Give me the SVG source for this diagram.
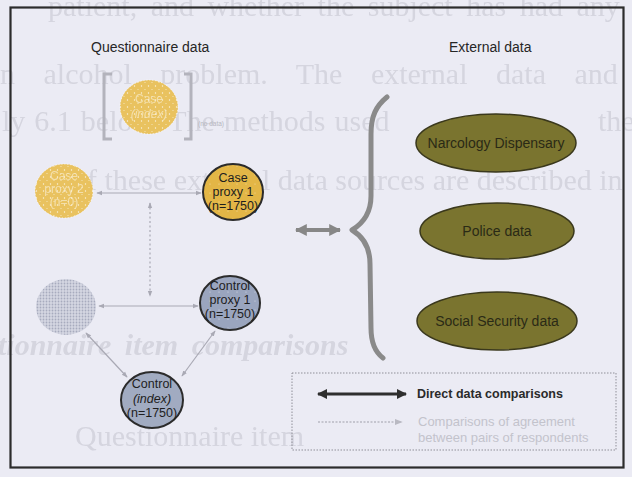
<svg xmlns="http://www.w3.org/2000/svg" width="632" height="477" viewBox="0 0 632 477">
<defs>
<style>
.ghost{font-family:"Liberation Serif",serif;font-size:30px;fill:#d5d5df}
.ghost-h{font-family:"Liberation Serif",serif;font-size:30px;font-style:italic;font-weight:bold;fill:#d5d5df}
.hd{font-family:"Liberation Sans",Arial,sans-serif;font-size:14px;fill:#262626}
.lbl{font-family:"Liberation Sans",Arial,sans-serif;font-size:12.5px;fill:#1e1e1e;text-anchor:middle}
.wlbl{font-family:"Liberation Sans",Arial,sans-serif;font-size:12px;fill:#fbf3de;text-anchor:middle;opacity:0.6}
.ext{font-family:"Liberation Sans",Arial,sans-serif;font-size:14px;fill:#2a2a16;text-anchor:middle}
.faint{stroke:#a9a9b4;stroke-width:1.2;fill:none}
.node{stroke:#2b2b2b;stroke-width:2}
.olive{fill:#7a742f;stroke:#3a381c;stroke-width:1.5}
.brk{stroke:#b3b3bc;stroke-width:3;fill:none}
</style>
<filter id="soft" x="-5%" y="-20%" width="110%" height="140%">
<feGaussianBlur stdDeviation="0.6"/>
</filter>
<pattern id="speck" width="7" height="7" patternUnits="userSpaceOnUse">
<rect width="7" height="7" fill="#e9c25f"/>
<circle cx="1.5" cy="2" r="0.7" fill="#fff" opacity="0.8"/>
<circle cx="5" cy="5.5" r="0.6" fill="#fff" opacity="0.6"/>
</pattern>
<pattern id="hatch" width="3" height="3" patternUnits="userSpaceOnUse">
<rect width="3" height="3" fill="#d5d7e2"/>
<circle cx="1.5" cy="1.5" r="0.9" fill="#a7abbe"/>
</pattern>
<pattern id="dotsY" width="9" height="9" patternUnits="userSpaceOnUse">
<rect width="9" height="9" fill="#e3b646"/>
<circle cx="3" cy="4" r="0.6" fill="#fff" opacity="0.5"/>
</pattern>
<pattern id="dotsB" width="9" height="9" patternUnits="userSpaceOnUse">
<rect width="9" height="9" fill="#9aa5be"/>
<circle cx="3" cy="4" r="0.6" fill="#fff" opacity="0.6"/>
</pattern>
<marker id="tiny" viewBox="0 0 8 8" refX="7" refY="4" markerWidth="5" markerHeight="5" orient="auto-start-reverse">
<path d="M0,1 L8,4 L0,7 z" fill="#a9a9b4"/>
</marker>
<marker id="grey" viewBox="0 0 10 10" refX="9" refY="5" markerWidth="3" markerHeight="3" orient="auto-start-reverse">
<path d="M0,0 L10,5 L0,10 z" fill="#878787"/>
</marker>
<marker id="dark" viewBox="0 0 10 10" refX="9" refY="5" markerWidth="3.4" markerHeight="3.4" orient="auto-start-reverse">
<path d="M0,0 L10,5 L0,10 z" fill="#2e2e2e"/>
</marker>
<marker id="pale" viewBox="0 0 10 10" refX="9" refY="5" markerWidth="6" markerHeight="6" orient="auto-start-reverse">
<path d="M0,1 L10,5 L0,9 z" fill="#b9b9c2"/>
</marker>
</defs>

<!-- page -->
<rect width="632" height="477" fill="#ebebf4"/>

<!-- show-through of the printed page behind -->
<g id="page-text" filter="url(#soft)">
<text class="ghost" x="48" y="16" word-spacing="6">patient, and whether the subject has had any</text>
<text class="ghost" x="0" y="84" word-spacing="21">n alcohol problem. The external data and</text>
<text class="ghost" x="2" y="131" word-spacing="1.5">ly 6.1 below. The methods used</text>
<text class="ghost" x="598" y="131">the</text>
<text class="ghost" x="72" y="190">of these external data sources are described in</text>
<text class="ghost-h" x="-2" y="355" word-spacing="6">tionnaire item comparisons</text>
<text class="ghost" x="75" y="446" font-size="29">Questionnaire item</text>
</g>

<!-- frame -->
<rect x="10.5" y="7.5" width="613" height="460" fill="none" stroke="#2c2c2c" stroke-width="2.2"/>

<!-- headings -->
<text class="hd" x="91" y="52">Questionnaire data</text>
<text class="hd" x="449" y="52">External data</text>

<!-- connectors -->
<g id="connectors">
<line class="faint" x1="97" y1="193" x2="201" y2="193" marker-start="url(#tiny)" marker-end="url(#tiny)"/>
<line class="faint" x1="150" y1="203" x2="150" y2="296" stroke-dasharray="2 2.5" marker-start="url(#tiny)" marker-end="url(#tiny)"/>
<line class="faint" x1="99" y1="306" x2="198" y2="306" marker-start="url(#tiny)" marker-end="url(#tiny)"/>
<line class="faint" x1="86" y1="333" x2="127" y2="377" marker-start="url(#tiny)" marker-end="url(#tiny)"/>
<line class="faint" x1="215" y1="331" x2="182" y2="376" marker-start="url(#tiny)" marker-end="url(#tiny)"/>
<line x1="296" y1="230" x2="340" y2="230" stroke="#878787" stroke-width="4" marker-start="url(#grey)" marker-end="url(#grey)"/>
<path d="M387,97 C376,106 371,116 371,134 L371,196 C371,214 362,224 352,230 C362,236 370,246 370,264 L371,328 C371,342 375,352 383,358" fill="none" stroke="#8a8a8a" stroke-width="5" stroke-linecap="round" stroke-linejoin="round"/>
</g>

<!-- questionnaire side -->
<g id="case-index">
<path class="brk" d="M112,74 L104,74 L104,139 L112,139"/>
<path class="brk" d="M184,74 L191,74 L191,139 L184,139"/>
<ellipse cx="149" cy="107" rx="29" ry="27" fill="url(#speck)" stroke="#fff" stroke-width="1" stroke-dasharray="1 2" stroke-opacity="0.8"/>
<text class="wlbl" x="149" y="103">Case</text>
<text class="wlbl" x="149" y="118" font-style="italic">(index)</text>
<text x="198" y="126" font-family="Liberation Sans, Arial, sans-serif" font-size="6.5" fill="#b5b5be">(no data)</text>
</g>

<g id="case-proxy-2">
<ellipse cx="64" cy="191" rx="29" ry="27" fill="url(#speck)" stroke="#fff" stroke-width="1" stroke-dasharray="1 2" stroke-opacity="0.8"/>
<text class="wlbl" x="64" y="180" font-size="10">Case</text>
<text class="wlbl" x="64" y="193" font-size="10">proxy 2</text>
<text class="wlbl" x="64" y="206" font-size="10">(n=0)</text>
</g>

<g id="case-proxy-1">
<ellipse class="node" cx="233" cy="192" rx="30" ry="28" fill="url(#dotsY)"/>
<text class="lbl" x="233" y="182">Case</text>
<text class="lbl" x="233" y="196">proxy 1</text>
<text class="lbl" x="233" y="210">(n=1750)</text>
</g>

<g id="control-proxy-2">
<ellipse cx="66" cy="307" rx="30" ry="28" fill="url(#hatch)"/>
</g>

<g id="control-proxy-1">
<ellipse class="node" cx="230" cy="303" rx="30" ry="27" fill="url(#dotsB)"/>
<text class="lbl" x="230" y="290">Control</text>
<text class="lbl" x="230" y="304">proxy 1</text>
<text class="lbl" x="230" y="318">(n=1750)</text>
</g>

<g id="control-index">
<ellipse class="node" cx="152" cy="400" rx="31" ry="28" fill="#a1abc1"/>
<text class="lbl" x="152" y="388">Control</text>
<text class="lbl" x="152" y="403" font-style="italic">(index)</text>
<text class="lbl" x="152" y="417">(n=1750)</text>
</g>

<!-- external side -->
<g id="narcology">
<ellipse class="olive" cx="496" cy="143" rx="80" ry="29"/>
<text class="ext" x="496" y="148">Narcology Dispensary</text>
</g>
<g id="police">
<ellipse class="olive" cx="497" cy="231" rx="77" ry="28"/>
<text class="ext" x="497" y="236">Police data</text>
</g>
<g id="social-security">
<ellipse class="olive" cx="497" cy="321" rx="80" ry="29"/>
<text class="ext" x="497" y="326">Social Security data</text>
</g>

<!-- legend -->
<g id="legend">
<rect x="292" y="373" width="324" height="77" fill="none" stroke="#8f8f98" stroke-width="1" stroke-dasharray="1.5 1.5"/>
<line x1="318" y1="394" x2="406" y2="394" stroke="#2e2e2e" stroke-width="3" marker-start="url(#dark)" marker-end="url(#dark)"/>
<text x="417" y="398" font-family="Liberation Sans, Arial, sans-serif" font-size="12.5" font-weight="bold" fill="#2a2a2a">Direct data comparisons</text>
<line x1="318" y1="422" x2="402" y2="422" stroke="#b9b9c2" stroke-width="1.3" stroke-dasharray="2 1.5" marker-end="url(#pale)"/>
<text x="418" y="426" font-family="Liberation Sans, Arial, sans-serif" font-size="13" fill="#c3c3cc">Comparisons of agreement</text>
<text x="418" y="442" font-family="Liberation Sans, Arial, sans-serif" font-size="13" fill="#c3c3cc">between pairs of respondents</text>
</g>
</svg>
